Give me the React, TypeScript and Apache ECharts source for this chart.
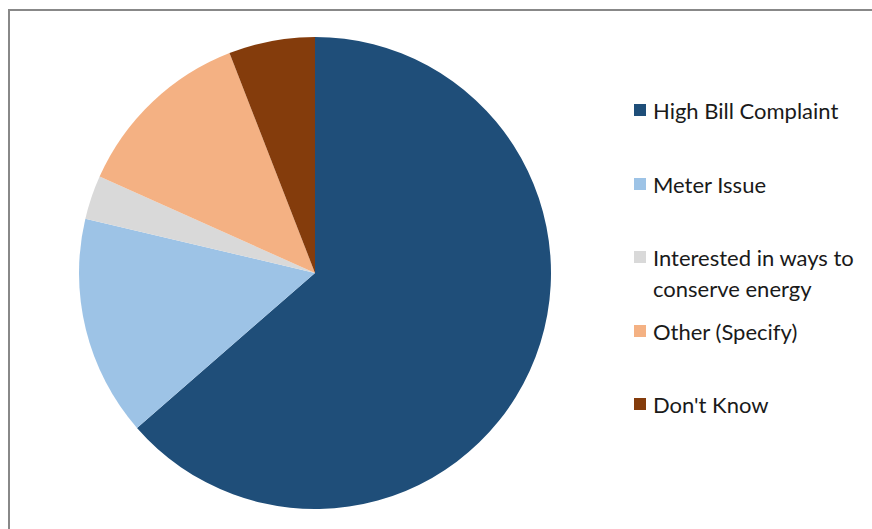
import React, { useEffect, useRef } from "react";
import * as echarts from "echarts";

const categories = [
  "High Bill Complaint",
  "Meter Issue",
  "Interested in ways to conserve energy",
  "Other (Specify)",
  "Don't Know",
];
const values = [63.6, 15.1, 3.0, 12.4, 5.9];
const colors = ["#1F4E79", "#9DC3E6", "#D9D9D9", "#F4B183", "#843C0C"];
const legendTops = [90, 164, 237, 311, 384];
const wrapAt = " conserve";

export default function App() {
  const ref = useRef<HTMLDivElement>(null);
  useEffect(() => {
    if (!ref.current) return;
    const chart = echarts.init(ref.current, null, { renderer: "svg" });
    const font = { fontFamily: "Lato", fontSize: 22, color: "#1a1a1a" };
    const legends = categories.map((name, i) => ({
      data: [name],
      left: 629,
      top: legendTops[i],
      orient: "vertical",
      itemWidth: 12,
      itemHeight: 12,
      icon: "rect",
      selectedMode: false,
      formatter: (n: string) => (n.indexOf(wrapAt) >= 0 ? n.split(wrapAt)[0] : n),
      textStyle: { ...font, lineHeight: 30, padding: [0, 0, 0, 2] },
    }));
    const wrapped = categories.find((c) => c.indexOf(wrapAt) >= 0) || "";
    chart.setOption({
      animation: false,
      color: colors,
      graphic: [
        {
          type: "rect",
          shape: { x: 9, y: 10, width: 900, height: 600 },
          style: { fill: "none", stroke: "#888888", lineWidth: 2 },
          silent: true,
        },
        {
          type: "text",
          x: 653,
          y: 288,
          style: {
            text: wrapped.split(wrapAt)[1] ? "conserve" + wrapped.split(wrapAt)[1] : "",
            ...font,
            fill: "#1a1a1a",
            verticalAlign: "middle",
          },
          silent: true,
        },
      ],
      legend: legends,
      series: [
        {
          type: "pie",
          center: [315, 273],
          radius: 236,
          startAngle: 90,
          clockwise: true,
          label: { show: false },
          labelLine: { show: false },
          emphasis: { disabled: true },
          itemStyle: { borderWidth: 0 },
          data: categories.map((name, i) => ({ name, value: values[i] })),
        },
      ],
    });
    return () => chart.dispose();
  }, []);
  return <div ref={ref} style={{ width: 872, height: 529, position: "absolute", left: 0, top: 0 }} />;
}
